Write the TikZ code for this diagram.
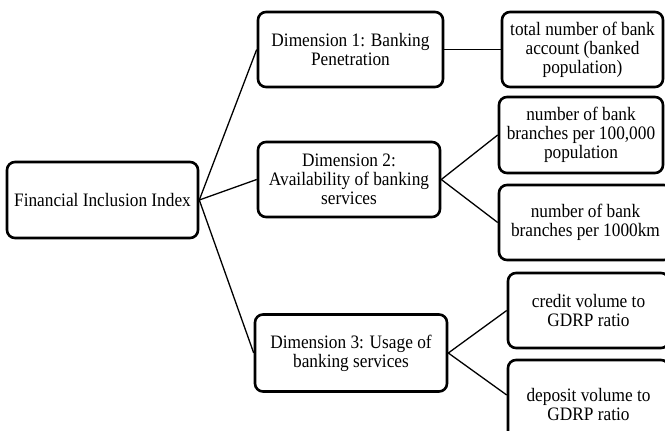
\documentclass[tikz,border=0pt]{standalone}
\usepackage{fontspec}
\setmainfont{Liberation Serif}[FakeStretch=0.91]
\begin{document}
\begin{tikzpicture}[x=1pt,y=-1pt,
  box/.style={draw=black, line width=2.6pt, rounded corners=8pt, align=center,
    inner sep=0pt, font=\fontsize{19}{19}\selectfont},
  link/.style={draw=black, line width=1.3pt}]
\useasboundingbox (0,0) rectangle (665,431);
\begin{scope}
\clip (0,0) rectangle (665,431);
\node[box, minimum width=191pt, minimum height=76pt] (root) at (102.5,200) {Financial Inclusion Index};
\node[box, minimum width=185pt, minimum height=75pt] (d1) at (350.5,49.5) {Dimension 1: Banking\\Penetration};
\node[box, minimum width=182pt, minimum height=75pt] (d2) at (349,179.5) {Dimension 2:\\Availability of banking\\services};
\node[box, minimum width=192pt, minimum height=77pt] (d3) at (351,353) {Dimension 3: Usage of\\banking services};
\node[box, minimum width=161pt, minimum height=75pt] (r1) at (582.5,49.5) {total number of bank\\account (banked\\population)};
\node[box, minimum width=164pt, minimum height=76pt] (r2) at (581,135) {number of bank\\branches per 100,000\\population};
\node[box, minimum width=173pt, minimum height=75pt] (r3) at (585.5,222.5) {number of bank\\branches per 1000km};
\node[box, minimum width=161pt, minimum height=75pt] (r4) at (588.5,310.5) {credit volume to\\GDRP ratio};
\node[box, minimum width=161pt, minimum height=88pt] (r5) at (588.5,404) {deposit volume to\\GDRP ratio};
\end{scope}
\draw[link] (root.east) -- (d1.west);
\draw[link] (root.east) -- (d2.west);
\draw[link] (root.east) -- (d3.west);
\draw[link] (d1.east) -- (r1.west);
\draw[link] (d2.east) -- (r2.west);
\draw[link] (d2.east) -- (r3.west);
\draw[link] (d3.east) -- (r4.west);
\draw[link] (d3.east) -- ([yshift=9pt]r5.west);
\end{tikzpicture}
\end{document}
